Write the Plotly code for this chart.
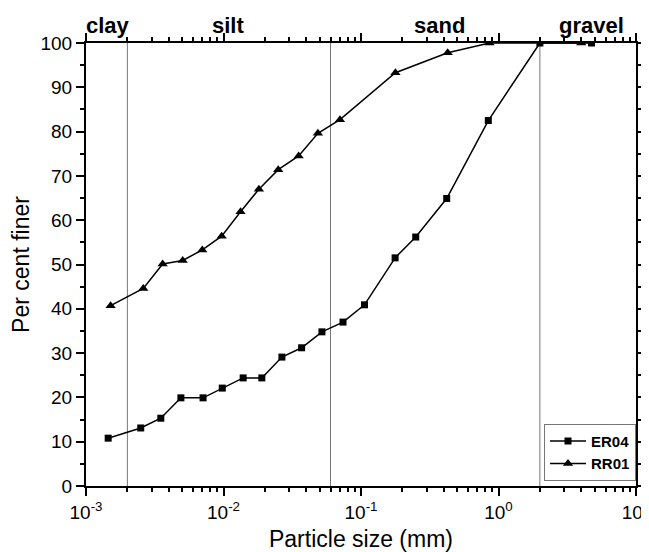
import math
import plotly.graph_objects as go

# Data (particle size in mm, percent finer)
er04_x = [0.00145, 0.0025, 0.0035, 0.0049, 0.0071, 0.0098, 0.0139, 0.019, 0.0266, 0.037,
          0.052, 0.074, 0.106, 0.177, 0.25, 0.42, 0.843, 2.0, 4.75]
er04_y = [10.8, 13.1, 15.3, 19.9, 19.9, 22.1, 24.4, 24.4, 29.1, 31.2,
          34.8, 37.0, 40.9, 51.5, 56.2, 64.9, 82.5, 100, 100]

rr01_x = [0.00151, 0.00261, 0.00361, 0.00505, 0.00701, 0.0097, 0.0133, 0.0181, 0.025, 0.0352,
          0.0486, 0.0703, 0.178, 0.427, 0.86, 4.0]
rr01_y = [40.7, 44.6, 50.1, 50.9, 53.3, 56.4, 61.9, 67.0, 71.4, 74.5,
          79.6, 82.7, 93.3, 97.8, 100, 100]

boundaries = [0.002, 0.06, 2.0]
class_labels = ["clay", "silt", "sand", "gravel"]
class_label_x = [0.00145, 0.0107, 0.373, 4.71]

x_tickvals = [0.001, 0.01, 0.1, 1, 10]
x_ticktext = ["10<sup>-3</sup>", "10<sup>-2</sup>", "10<sup>-1</sup>", "10<sup>0</sup>", "10<sup>1</sup>"]
x_minor = [m * 10.0 ** e for e in range(-3, 1) for m in range(2, 10)]

FONT = "Arial, Liberation Sans, sans-serif"

fig = go.Figure()

for b in boundaries:
    fig.add_trace(go.Scatter(x=[b, b], y=[0, 100], mode="lines",
                             line=dict(color="#777777", width=1),
                             showlegend=False, hoverinfo="skip"))

fig.add_trace(go.Scatter(x=er04_x, y=er04_y, mode="lines+markers", name="<b>ER04</b>",
                         line=dict(color="black", width=1.5),
                         marker=dict(symbol="square", size=7, color="black")))
fig.add_trace(go.Scatter(x=rr01_x, y=rr01_y, mode="lines+markers", name="<b>RR01</b>",
                         line=dict(color="black", width=1.5),
                         marker=dict(symbol="triangle-up", size=9, color="black")))

for lab, lx in zip(class_labels, class_label_x):
    fig.add_annotation(x=math.log10(lx), y=1, xref="x", yref="paper",
                       text="<b>%s</b>" % lab, showarrow=False,
                       yanchor="bottom", yshift=3,
                       font=dict(family=FONT, size=22, color="black"))

fig.update_xaxes(type="log", range=[-3, 1], automargin=False,
                 tickvals=x_tickvals, ticktext=x_ticktext, ticklabeloverflow="allow",
                 ticks="outside", ticklen=8, tickwidth=1.5, tickcolor="black",
                 minor=dict(tickvals=x_minor, ticks="outside", ticklen=4, tickwidth=1.5, tickcolor="black"),
                 showline=True, linewidth=2, linecolor="black", mirror="allticks",
                 showgrid=False, zeroline=False,
                 title=dict(text="Particle size (mm)", font=dict(family=FONT, size=23, color="black"), standoff=9),
                 tickfont=dict(family=FONT, size=19, color="black"))
fig.update_yaxes(range=[0, 100], dtick=10, automargin=False,
                 ticks="outside", ticklen=8, tickwidth=1.5, tickcolor="black",
                 minor=dict(dtick=5, ticks="outside", ticklen=4, tickwidth=1.5, tickcolor="black"),
                 showline=True, linewidth=2, linecolor="black", mirror="allticks",
                 showgrid=False, zeroline=False,
                 title=dict(text="Per cent finer", font=dict(family=FONT, size=23, color="black"), standoff=8),
                 tickfont=dict(family=FONT, size=19, color="black"))

fig.update_layout(width=641, height=544,
                  margin=dict(l=78, r=13, t=35, b=66),
                  plot_bgcolor="white", paper_bgcolor="white",
                  font=dict(family=FONT, color="black"),
                  legend=dict(x=1, y=0.012, xanchor="right", yanchor="bottom",
                              bgcolor="white", bordercolor="#777777", borderwidth=1,
                              font=dict(family=FONT, size=15, color="black"),
                              itemwidth=36, tracegroupgap=0))

fig.write_html("out.html")
